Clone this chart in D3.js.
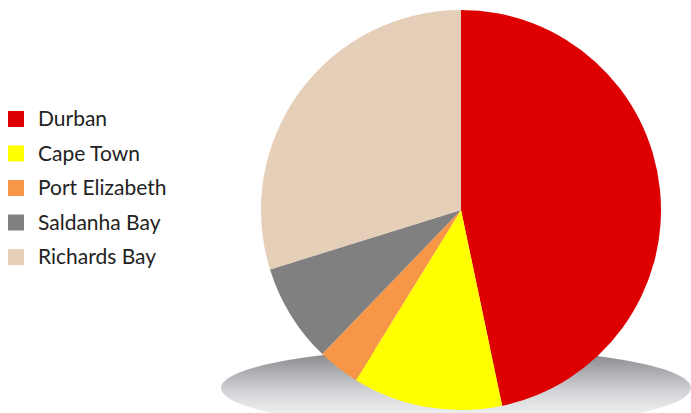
<!DOCTYPE html>
<html>
<head>
<meta charset="utf-8">
<script src="https://cdn.jsdelivr.net/npm/d3@7"></script>
<style>
  body { margin: 0; background: #fff; }
  svg { display: block; }
</style>
</head>
<body>
<div id="chart"></div>
<script>
const ports = ["Durban", "Cape Town", "Port Elizabeth", "Saldanha Bay", "Richards Bay"];
const shares = [46.7, 12.1, 3.4, 8.0, 29.8];
const colors = ["#de0000", "#ffff00", "#f79646", "#808080", "#e6cfb8"];

const width = 691, height = 413;
const cx = 461, cy = 210, radius = 200;

const svg = d3.select("#chart").append("svg")
    .attr("width", width)
    .attr("height", height);

// shadow gradient under the pie
const defs = svg.append("defs");
const grad = defs.append("linearGradient")
    .attr("id", "shadow")
    .attr("x1", 0).attr("y1", 0).attr("x2", 0).attr("y2", 1);
grad.append("stop").attr("offset", "0%").attr("stop-color", "#7f7f84");
grad.append("stop").attr("offset", "55%").attr("stop-color", "#d4d5d8");
grad.append("stop").attr("offset", "100%").attr("stop-color", "#ffffff");

svg.append("ellipse")
    .attr("cx", 456)
    .attr("cy", 388)
    .attr("rx", 235)
    .attr("ry", 40)
    .attr("fill", "url(#shadow)");

const color = d3.scaleOrdinal().domain(ports).range(colors);

const pie = d3.pie().sort(null).value(d => d.value);
const arc = d3.arc().innerRadius(0).outerRadius(radius);

const data = ports.map((p, i) => ({name: p, value: shares[i]}));

const g = svg.append("g")
    .attr("transform", "translate(" + cx + "," + cy + ")");

g.selectAll("path")
    .data(pie(data))
    .enter().append("path")
    .attr("d", arc)
    .attr("fill", d => color(d.data.name));

// legend
const legend = svg.append("g")
    .attr("transform", "translate(8,119)");

const rows = legend.selectAll("g")
    .data(ports)
    .enter().append("g")
    .attr("transform", (d, i) => "translate(0," + (i * 34.5) + ")");

rows.append("rect")
    .attr("x", 0)
    .attr("y", -8)
    .attr("width", 16)
    .attr("height", 16)
    .attr("fill", d => color(d));

rows.append("text")
    .attr("x", 30)
    .attr("y", 0)
    .attr("dy", "0.35em")
    .style("font-family", "Lato, sans-serif")
    .style("font-size", "21px")
    .style("fill", "#222")
    .text(d => d);
</script>
</body>
</html>
